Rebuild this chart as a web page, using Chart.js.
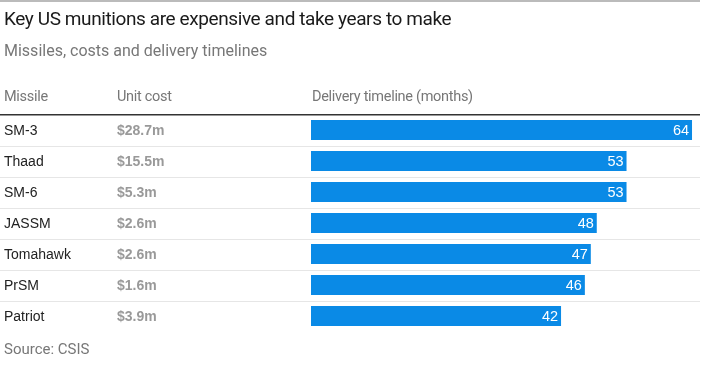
<!DOCTYPE html>
<html>
<head>
<meta charset="utf-8">
<script src="https://cdn.jsdelivr.net/npm/chart.js@4.4.0/dist/chart.umd.min.js"></script>
<style>
  body { margin: 0; background: #fff; }
  #wrap { position: relative; width: 711px; height: 366px; overflow: hidden; }
  #wrap canvas { position: absolute; left: 0; top: 0; }
  .txt { position: absolute; white-space: nowrap; font-family: "Roboto", sans-serif; }
  #title { left: 4px; top: 7px; font-size: 19px; letter-spacing: -0.4px; color: #1a1a1a; }
  #sub { left: 4px; top: 41px; font-size: 16px; color: #777; }
  .head { top: 88px; font-size: 14.5px; letter-spacing: -0.3px; color: #777; }
  #source { left: 4px; top: 340px; font-size: 15px; color: #777; }
</style>
</head>
<body>
<div id="wrap">
  <canvas id="myChart" width="711" height="366"></canvas>
  <div class="txt" id="title">Key US munitions are expensive and take years to make</div>
  <div class="txt" id="sub">Missiles, costs and delivery timelines</div>
  <div class="txt head" style="left:4px">Missile</div>
  <div class="txt head" style="left:117px">Unit cost</div>
  <div class="txt head" style="left:312px">Delivery timeline (months)</div>
  <div class="txt" id="source">Source: CSIS</div>
</div>
<script>
  var missiles = ["SM-3", "Thaad", "SM-6", "JASSM", "Tomahawk", "PrSM", "Patriot"];
  var unitCost = ["$28.7m", "$15.5m", "$5.3m", "$2.6m", "$2.6m", "$1.6m", "$3.9m"];
  var months = [64, 53, 53, 48, 47, 46, 42];

  // draws the left table columns, row rules and value labels
  var tablePlugin = {
    id: "table",
    beforeDatasetsDraw: function (chart) {
      var ctx = chart.ctx, y = chart.scales.y, area = chart.chartArea;
      ctx.save();
      // top grey rule
      ctx.fillStyle = "#bbbbbb";
      ctx.fillRect(0, 0, 700, 2);
      // row separators
      ctx.fillStyle = "#e6e6e6";
      for (var i = 1; i < missiles.length; i++) {
        var yy = (y.getPixelForValue(i - 1) + y.getPixelForValue(i)) / 2;
        ctx.fillRect(0, Math.round(yy), 700, 1);
      }
      // header black rule
      ctx.fillStyle = "#333333";
      ctx.fillRect(0, Math.round(area.top) - 1, 700, 1.5);
      ctx.textBaseline = "middle";
      for (var j = 0; j < missiles.length; j++) {
        var py = y.getPixelForValue(j) + 1;
        ctx.fillStyle = "#222222";
        ctx.font = "14px 'Liberation Sans', Arial, sans-serif";
        ctx.fillText(missiles[j], 4, py);
        ctx.fillStyle = "#999999";
        ctx.font = "bold 14px 'Liberation Sans', Arial, sans-serif";
        ctx.fillText(unitCost[j], 117, py);
      }
      ctx.restore();
    },
    afterDatasetsDraw: function (chart) {
      var ctx = chart.ctx;
      var meta = chart.getDatasetMeta(0);
      ctx.save();
      ctx.fillStyle = "#ffffff";
      ctx.font = "14.5px 'Liberation Sans', Arial, sans-serif";
      ctx.textAlign = "right";
      ctx.textBaseline = "middle";
      meta.data.forEach(function (bar, k) {
        ctx.fillText(months[k], bar.x - 3, bar.y + 1);
      });
      ctx.restore();
    }
  };

  new Chart("myChart", {
    type: "bar",
    data: {
      labels: missiles,
      datasets: [{
        data: months,
        backgroundColor: "#0a8ae6",
        borderWidth: 0,
        barPercentage: 0.645,
        categoryPercentage: 1
      }]
    },
    options: {
      indexAxis: "y",
      responsive: false,
      animation: false,
      layout: { padding: { left: 311, right: 11, top: 114.5, bottom: 34.5 } },
      plugins: { legend: { display: false }, tooltip: { enabled: false } },
      scales: {
        x: { display: false, min: 0, max: 65.34 },
        y: { display: false }
      }
    },
    plugins: [tablePlugin]
  });
</script>
</body>
</html>
